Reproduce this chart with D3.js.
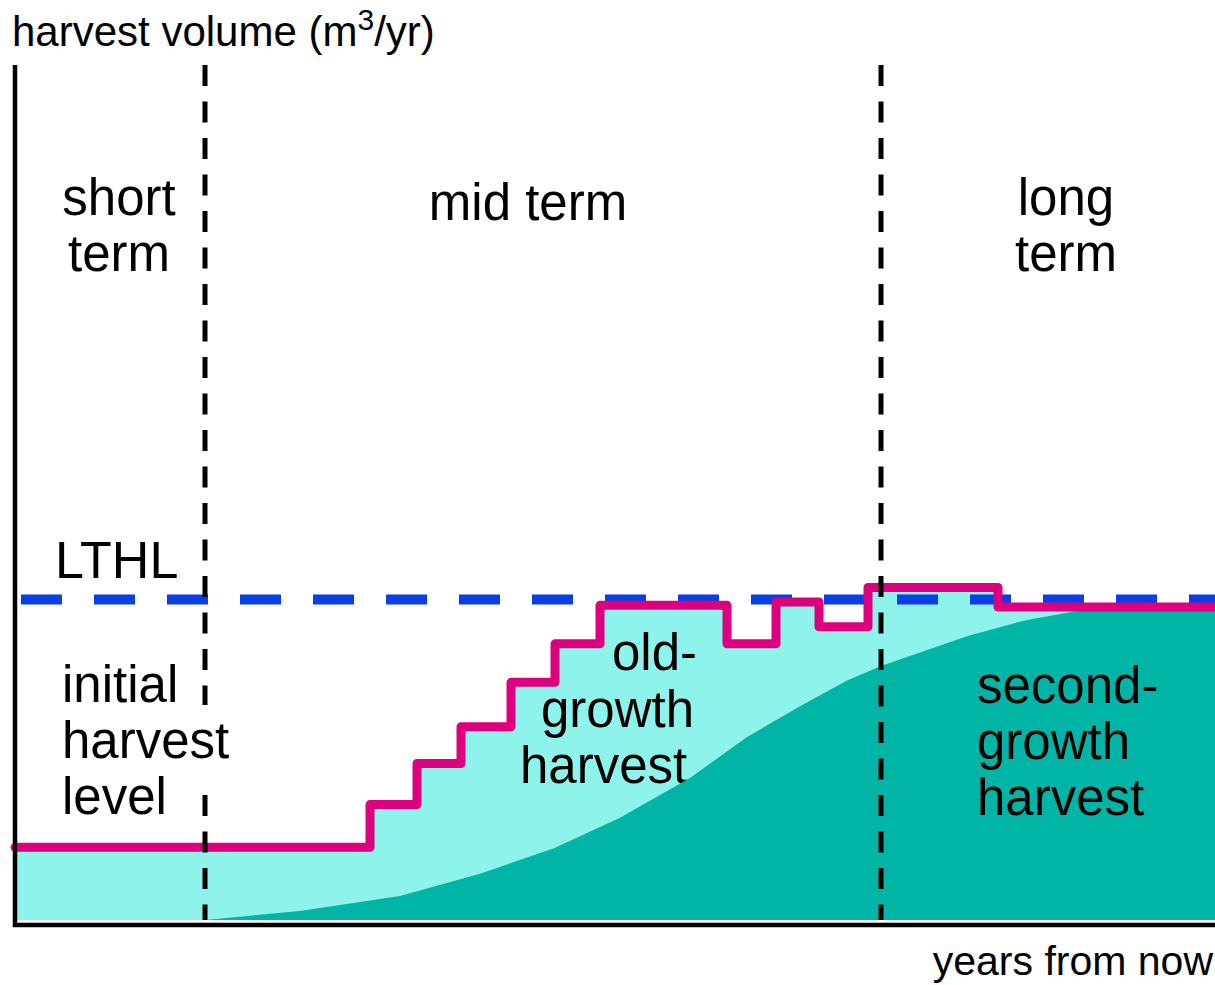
<!DOCTYPE html>
<html>
<head>
<meta charset="utf-8">
<script src="https://cdnjs.cloudflare.com/ajax/libs/d3/7.8.5/d3.min.js"></script>
<style>
  html, body { margin: 0; padding: 0; background: #fff; }
  svg { display: block; }
  text { font-family: "Liberation Sans", Arial, sans-serif; fill: #000; }
</style>
</head>
<body>
<svg id="chart"></svg>
<script>
// step harvest (old-growth + second-growth), years from now vs volume
const stepYears = [0, 35.5, 40.2, 44.6, 49.6, 54, 58.5, 71.2, 76.1, 80.4, 85.3, 98.3, 120];
const stepVolume = [8.5, 13.5, 18.3, 22.6, 27.8, 32.3, 36.8, 32.3, 37.2, 34.3, 38.9, 36.6, 36.6];

// second-growth contribution
const secondYears = [19, 28.5, 38.5, 46.5, 53.9, 60.4, 67.5, 73.2, 78.5, 83.2, 86.6, 95.2, 101.2, 106.5, 120];
const secondVolume = [0, 1.05, 2.8, 5.4, 8.4, 11.9, 16.6, 21.4, 25.0, 28.0, 29.7, 33.2, 35.1, 36.2, 36.2];

const termBounds = [19, 86.6];
const lthl = 37.5;

const width = 1215, height = 985;
const svg = d3.select("#chart").attr("width", width).attr("height", height);

const x = d3.scaleLinear().domain([0, 120]).range([15, 1215]);
const y = d3.scaleLinear().domain([0, 100]).range([920, 65]);

const stepData = stepYears.map((d, i) => ({ year: d, vol: stepVolume[i] }));
const secondData = secondYears.map((d, i) => ({ year: d, vol: secondVolume[i] }));

// old growth (light cyan) under the step line
svg.append("path")
  .datum(stepData)
  .attr("fill", "#8ef3ea")
  .attr("d", d3.area()
    .curve(d3.curveStepAfter)
    .x(d => x(d.year))
    .y0(y(0))
    .y1(d => y(d.vol)));

// old-growth label sits under the second-growth area
const oldLines = [["old-", 612, 670], ["growth", 541, 727], ["harvest", 520, 783]];
svg.append("g").selectAll("text").data(oldLines).enter()
  .append("text")
  .attr("x", d => d[1])
  .attr("y", d => d[2])
  .style("font-size", "51px")
  .text(d => d[0]);

// second growth (teal)
svg.append("path")
  .datum(secondData)
  .attr("fill", "#00b5a5")
  .attr("d", d3.area()
    .x(d => x(d.year))
    .y0(y(0))
    .y1(d => y(d.vol)));

// LTHL
svg.append("line")
  .attr("x1", 21).attr("x2", x(120))
  .attr("y1", y(lthl)).attr("y2", y(lthl))
  .attr("stroke", "#0a3fe6")
  .attr("stroke-width", 10)
  .attr("stroke-dasharray", "41,32");

// harvest step line
svg.append("path")
  .datum(stepData)
  .attr("fill", "none")
  .attr("stroke", "#dc007f")
  .attr("stroke-width", 9)
  .attr("stroke-linejoin", "round")
  .attr("stroke-linecap", "round")
  .attr("d", d3.line()
    .curve(d3.curveStepAfter)
    .x(d => x(d.year))
    .y(d => y(d.vol)));

// term boundaries
svg.append("g").selectAll("line").data(termBounds).enter()
  .append("line")
  .attr("x1", d => x(d)).attr("x2", d => x(d))
  .attr("y1", y(100)).attr("y2", y(0))
  .attr("stroke", "#000")
  .attr("stroke-width", 5)
  .attr("stroke-dasharray", "21,15.5");

// axes
svg.append("line")
  .attr("x1", x(0)).attr("x2", x(0))
  .attr("y1", y(100)).attr("y2", 927)
  .attr("stroke", "#000").attr("stroke-width", 4.5);
svg.append("line")
  .attr("x1", x(0) - 2).attr("x2", x(120))
  .attr("y1", 925).attr("y2", 925)
  .attr("stroke", "#000").attr("stroke-width", 4.5);

// axis titles
const yTitle = svg.append("text")
  .attr("x", 12).attr("y", 46)
  .style("font-size", "42px");
yTitle.append("tspan").text("harvest volume (m");
yTitle.append("tspan").attr("dy", -16).style("font-size", "30px").text("3");
yTitle.append("tspan").attr("dy", 16).text("/yr)");

svg.append("text")
  .attr("x", 1213).attr("y", 975)
  .attr("text-anchor", "end")
  .style("font-size", "41px")
  .text("years from now");

// white box behind "harvest" of the initial-level label hides the dashed line there
svg.append("rect")
  .attr("x", 196).attr("y", 705)
  .attr("width", 20).attr("height", 88)
  .attr("fill", "#fff");

// region labels
const labels = [
  { lines: ["short", "term"], x: 119, y: 215, anchor: "middle" },
  { lines: ["mid term"], x: 528, y: 220, anchor: "middle" },
  { lines: ["long", "term"], x: 1066, y: 215, anchor: "middle" },
  { lines: ["LTHL"], x: 55, y: 578, anchor: "start", size: 52 },
  { lines: ["initial", "harvest", "level"], x: 62, y: 702, anchor: "start" },
  { lines: ["second-", "growth", "harvest"], x: 977, y: 703, anchor: "start" }
];
labels.forEach(l => {
  svg.append("g").selectAll("text").data(l.lines).enter()
    .append("text")
    .attr("x", l.x)
    .attr("y", (d, i) => l.y + i * 56)
    .attr("text-anchor", l.anchor)
    .style("font-size", (l.size || 51) + "px")
    .text(d => d);
});
</script>
</body>
</html>
